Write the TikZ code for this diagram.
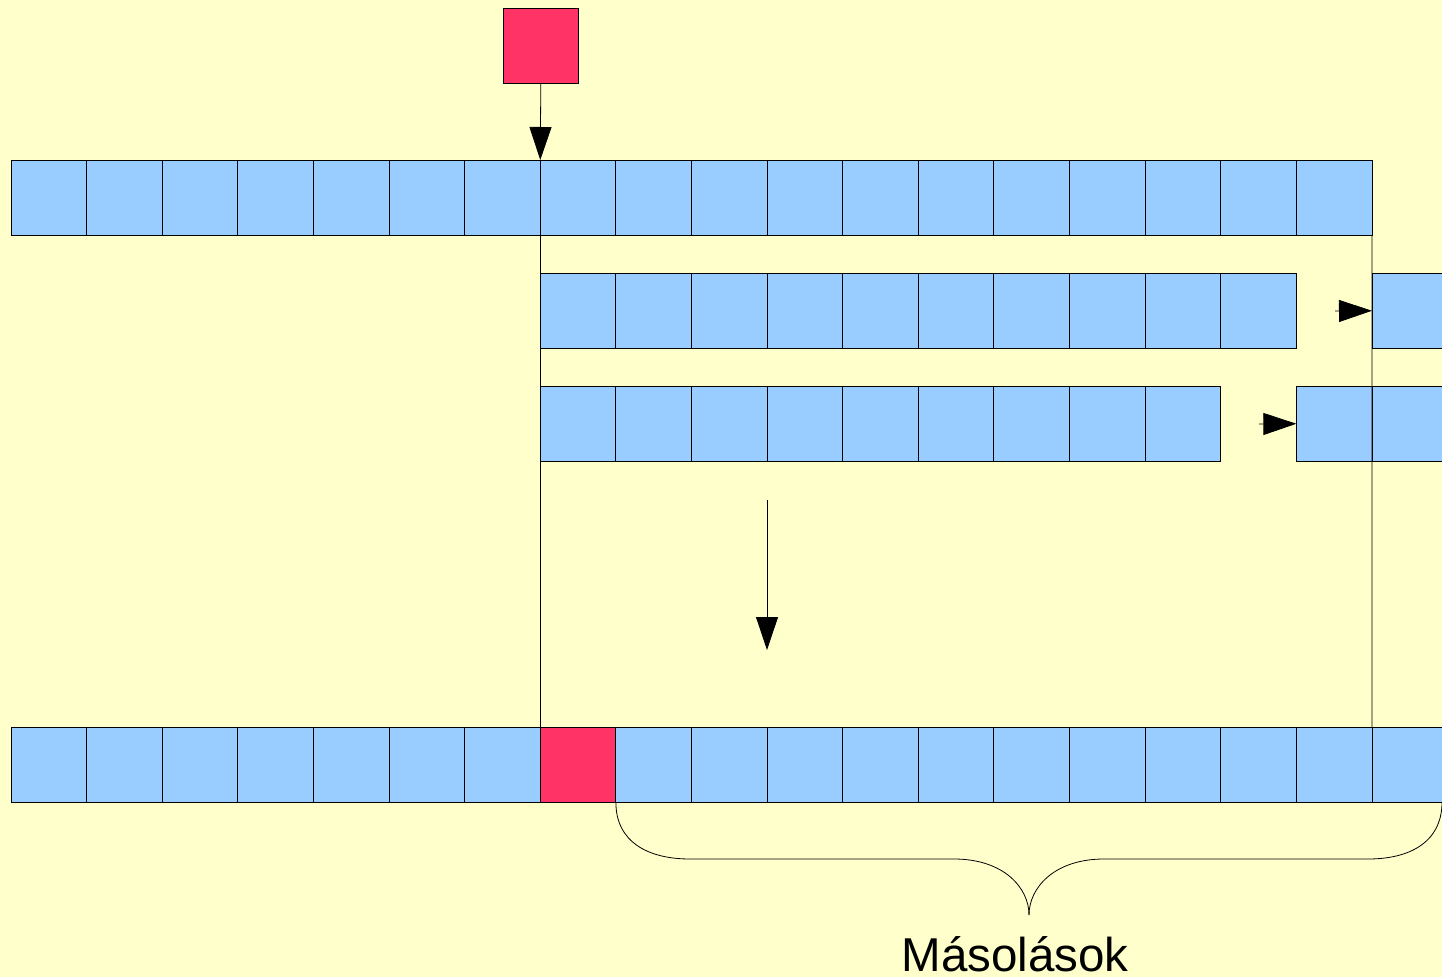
\documentclass[tikz,border=0pt]{standalone}
\usepackage{fontspec}
\setmainfont{Liberation Sans}
\usetikzlibrary{arrows.meta}
\definecolor{bg}{HTML}{FFFFCC}
\definecolor{cellblue}{HTML}{99CCFF}
\definecolor{cellred}{HTML}{FF3366}
\tikzset{
  cell/.style={rectangle, draw=black, fill=cellblue, line width=0.9pt,
    minimum width=75.61pt, minimum height=75.5pt, inner sep=0pt, outer sep=0pt, anchor=north west},
  hot/.style={cell, fill=cellred},
  arr/.style={line width=0.8pt, -{Triangle[length=33pt,width=22pt]}},
  thin line/.style={line width=0.8pt},
  label text/.style={font=\fontsize{47.5}{50}\selectfont, anchor=base}
}
\begin{document}
\begin{tikzpicture}[x=1pt,y=-1pt]
  \useasboundingbox (0,0) rectangle (1442,977);
  \fill[bg] (0,0) rectangle (1442,977);
  \clip (0,0) rectangle (1442,977);

  % incoming element
  \node[hot] (new) at (503,8) {};

  % original array
  \foreach \i in {0,...,17}
    \node[cell] (t\i) at ({11+75.61*\i},160) {};

  % shifted copies, step one
  \foreach \i in {7,...,16}
    \node[cell] (a\i) at ({11+75.61*\i},273) {};
  \node[cell] (a18) at ({11+75.61*18},273) {};

  % shifted copies, step two
  \foreach \i in {7,...,15}
    \node[cell] (c\i) at ({11+75.61*\i},386) {};
  \node[cell] (c17) at ({11+75.61*17},386) {};
  \node[cell] (c18) at ({11+75.61*18},386) {};

  % resulting array
  \foreach \i in {0,...,18}
    \node[cell] (b\i) at ({11+75.61*\i},727) {};
  \node[hot] (b7) at ({11+75.61*7},727) {};

  % guide lines bounding the moved block
  \draw[thin line] (t7.south west) -- (b7.north west);
  \draw[thin line] (t17.south east) -- (b18.north west);

  % arrows
  \draw[arr] (new.south) -- (t7.north west);
  \coordinate (s1) at (1335,311);
  \draw[arr] (s1) -- (a18.west);
  \coordinate (s2) at (1259,424);
  \draw[arr] (s2) -- (c17.west);
  \coordinate (d1) at (767,500);
  \coordinate (d2) at (767,650);
  \draw[arr] (d1) -- (d2);

  % brace over the copied cells
  \coordinate (br) at (1442,802);
  \coordinate (tip) at (1029,915);
  \draw[thin line] (b8.south west) .. controls (616,842) and (648,859) .. (690,859)
    -- (954,859) .. controls (1004,859) and (1029,888) .. (tip);
  \draw[thin line] (br) .. controls (1442,842) and (1410,859) .. (1368,859)
    -- (1104,859) .. controls (1054,859) and (1029,888) .. (tip);

  \node[label text] (lbl) at (1015,971) {Másolások};
\end{tikzpicture}
\end{document}
